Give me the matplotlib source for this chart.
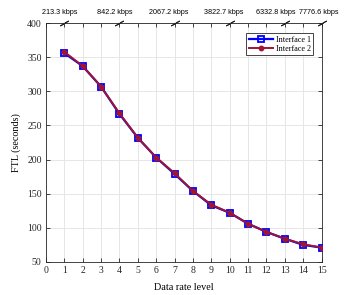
import numpy as np
import matplotlib
matplotlib.use("Agg")
import matplotlib.pyplot as plt
from matplotlib.ticker import MultipleLocator

# niveaux de débit et FTL
levels = list(range(1, 16))
ftl_if1 = [356, 337, 307, 267, 232, 203, 179, 154, 133, 122, 106, 94, 84, 75, 71]
ftl_if2 = [358, 337, 307, 268, 232, 203, 180, 154, 134, 122, 106, 94, 84, 76, 71]

# axe du haut : débits associés à certains niveaux
rate_levels = [1, 4, 7, 10, 13, 15]
rate_labels = ["213.3 kbps", "842.2 kbps", "2067.2 kbps", "3822.7 kbps",
               "6332.8 kbps", "7776.6 kbps"]
# décalage horizontal des étiquettes (en points) pour éviter le chevauchement
label_shift = [-3, -3.3, -4, -4.1, -6.5, -2]

serif = "Liberation Serif"
sans = "Liberation Sans"
axis_col = "#262626"

fig = plt.figure(figsize=(3.55, 2.95), dpi=100)
ax = fig.add_axes([0.129, 0.112, 0.777, 0.810])

ax.plot(levels, ftl_if1, color="blue", lw=1.6, marker="s", ms=5,
        mfc="none", mec="blue", mew=1.3, label="Interface 1", zorder=3)
ax.plot(levels, ftl_if2, color="#a2142f", lw=1.4, marker="o", ms=3.2,
        mfc="#a2142f", mec="#a2142f", label="Interface 2", zorder=4)

ax.set_xlim(0, 15)
ax.set_ylim(50, 400)
ax.xaxis.set_major_locator(MultipleLocator(1))
ax.yaxis.set_major_locator(MultipleLocator(50))
ax.grid(True, color="#e6e6e6", lw=0.7)
ax.set_axisbelow(True)

ax.tick_params(direction="in", length=3, width=0.6, colors=axis_col,
               top=True, right=True, labelsize=7, pad=3)
for lab in ax.get_xticklabels() + ax.get_yticklabels():
    lab.set_fontfamily(serif)
for sp in ax.spines.values():
    sp.set_color(axis_col)
    sp.set_linewidth(0.6)

ax.set_xlabel("Data rate level", fontfamily=serif, fontsize=7.3, labelpad=6)
ax.set_ylabel("FTL (seconds)", fontfamily=serif, fontsize=7.3, labelpad=4)

# petits traits obliques + débits au-dessus de l'axe
trans = ax.get_xaxis_transform()
ax.plot(rate_levels, [1] * len(rate_levels), ls="none", marker=(2, 2, -59),
        ms=7, mew=0.7, color=axis_col, transform=trans, clip_on=False, zorder=5)
for x, txt, dx in zip(rate_levels, rate_labels, label_shift):
    ax.annotate(txt, xy=(x, 1.045), xycoords=trans, xytext=(dx, 0),
                textcoords="offset points", ha="center", va="center",
                fontfamily=sans, fontsize=5.2, color="black",
                annotation_clip=False)

leg = ax.legend(loc="upper right", prop={"family": serif, "size": 5.9},
                handlelength=3.0, borderpad=0.3, labelspacing=0.15,
                handletextpad=0.3, fancybox=False, framealpha=1,
                bbox_to_anchor=(0.985, 0.975))
leg.get_frame().set_edgecolor(axis_col)
leg.get_frame().set_linewidth(0.6)

fig.savefig("out.png", dpi=100)
